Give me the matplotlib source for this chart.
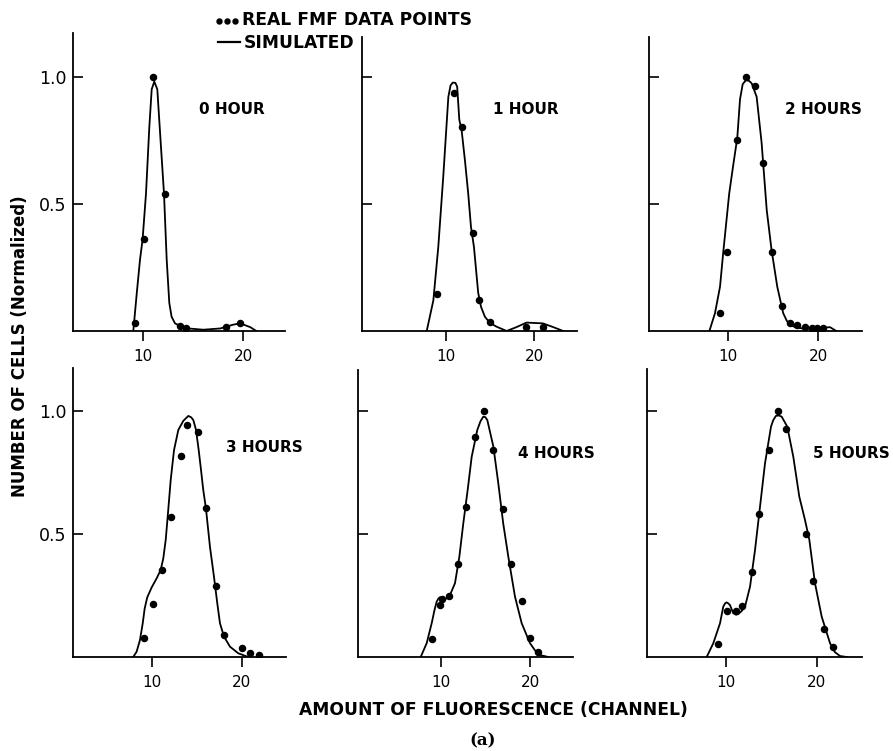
import matplotlib.pyplot as plt
from matplotlib.lines import Line2D

# ----------------------------
# Data (channel, normalized count)
# ----------------------------

hours = ["0 HOUR", "1 HOUR", "2 HOURS", "3 HOURS", "4 HOURS", "5 HOURS"]

# real FMF data points
x_pts_0 = [9.2, 10.1, 11.0, 12.2, 13.7, 14.3, 18.3, 19.7]
y_pts_0 = [0.03, 0.36, 1.0, 0.54, 0.02, 0.01, 0.015, 0.03]

x_pts_1 = [9.0, 10.9, 11.9, 13.05, 13.8, 15.0, 19.1, 21.0]
y_pts_1 = [0.144, 0.934, 0.80, 0.386, 0.12, 0.037, 0.017, 0.017]

x_pts_2 = [9.1, 9.9, 11.0, 12.0, 13.0, 13.9, 14.9, 16.0, 16.8, 17.6, 18.5, 19.3, 19.8, 20.55]
y_pts_2 = [0.07, 0.31, 0.75, 0.997, 0.963, 0.66, 0.31, 0.098, 0.03, 0.025, 0.015, 0.01, 0.01, 0.01]

x_pts_3 = [9.07, 10.04, 11.12, 12.09, 13.17, 13.9, 15.08, 16.0, 17.12, 18.0, 20.0, 20.93, 21.97]
y_pts_3 = [0.078, 0.214, 0.354, 0.57, 0.818, 0.943, 0.916, 0.607, 0.289, 0.089, 0.035, 0.015, 0.008]

x_pts_4 = [8.99, 9.9, 10.15, 10.93, 11.97, 12.83, 13.88, 14.85, 15.9, 17.0, 17.87, 19.1, 20.0, 20.93]
y_pts_4 = [0.072, 0.21, 0.235, 0.25, 0.38, 0.608, 0.895, 1.0, 0.84, 0.60, 0.377, 0.229, 0.076, 0.022]

x_pts_5 = [9.15, 10.07, 11.1, 11.73, 12.83, 13.67, 14.78, 15.77, 16.58, 18.82, 19.63, 20.84, 21.76]
y_pts_5 = [0.052, 0.188, 0.188, 0.207, 0.347, 0.581, 0.841, 1.0, 0.925, 0.499, 0.31, 0.114, 0.042]

# simulated curves
x_sim_0 = [9.0, 9.35, 9.67, 9.93, 10.27, 10.6, 10.84, 11.1, 11.4, 11.74, 12.07, 12.34,
           12.6, 12.83, 13.17, 13.67, 14.5, 16.0, 17.7, 19.0, 19.7, 20.7, 21.3]
y_sim_0 = [0.0, 0.15, 0.28, 0.36, 0.54, 0.80, 0.95, 0.98, 0.95, 0.74, 0.54, 0.28,
           0.11, 0.056, 0.03, 0.02, 0.01, 0.005, 0.01, 0.025, 0.03, 0.015, 0.0]

x_sim_1 = [7.85, 8.6, 9.16, 9.73, 10.3, 10.55, 10.8, 11.1, 11.3, 11.54, 11.8, 12.18, 12.55,
           12.86, 13.2, 13.68, 14.0, 14.44, 15.0, 15.76, 16.9, 18.0, 19.15, 21.0, 22.2, 23.3]
y_sim_1 = [0.0, 0.12, 0.33, 0.61, 0.92, 0.965, 0.976, 0.975, 0.96, 0.83, 0.79, 0.67, 0.54,
           0.41, 0.33, 0.15, 0.095, 0.056, 0.032, 0.017, 0.0, 0.015, 0.033, 0.03, 0.015, 0.0]

x_sim_2 = [7.9, 8.52, 9.08, 9.44, 10.1, 10.5, 11.0, 11.3, 11.6, 11.97, 12.3, 12.6, 13.15,
           13.7, 14.27, 14.8, 15.44, 16.1, 16.5, 16.85, 17.5, 18.3, 20.55, 21.3, 22.0]
y_sim_2 = [0.0, 0.07, 0.174, 0.31, 0.54, 0.64, 0.76, 0.91, 0.97, 0.986, 0.983, 0.973, 0.92,
           0.74, 0.475, 0.32, 0.174, 0.07, 0.04, 0.024, 0.014, 0.01, 0.013, 0.015, 0.0]

x_sim_3 = [7.87, 8.25, 8.62, 8.93, 9.15, 9.44, 9.93, 10.49, 10.94, 11.23, 11.5, 11.72, 12.06,
           12.43, 12.91, 13.47, 14.03, 14.36, 14.59, 14.89, 15.19, 15.45, 15.7, 16.0,
           16.45, 16.9, 17.27, 17.57, 18.02, 18.69, 19.62, 20.74]
y_sim_3 = [0.0, 0.022, 0.069, 0.137, 0.198, 0.243, 0.283, 0.32, 0.354, 0.401, 0.476, 0.57,
           0.72, 0.841, 0.923, 0.96, 0.98, 0.974, 0.963, 0.923, 0.841, 0.76, 0.679, 0.604,
           0.448, 0.326, 0.218, 0.137, 0.083, 0.042, 0.015, 0.0]

x_sim_4 = [7.76, 8.43, 8.99, 9.3, 9.55, 9.75, 9.92, 10.2, 10.48, 10.75, 11.04, 11.6, 12.09,
           12.53, 13.02, 13.47, 14.1, 14.45, 14.77, 15.0, 15.22, 15.9, 16.45, 17.0, 17.57,
           18.32, 19.07, 20.0, 20.6, 21.12, 22.05]
y_sim_4 = [0.0, 0.056, 0.137, 0.19, 0.225, 0.238, 0.243, 0.238, 0.235, 0.24, 0.252, 0.30,
           0.408, 0.543, 0.679, 0.814, 0.923, 0.958, 0.977, 0.975, 0.963, 0.855, 0.706,
           0.543, 0.408, 0.245, 0.137, 0.056, 0.025, 0.008, 0.0]

x_sim_5 = [7.87, 8.6, 9.34, 9.7, 9.9, 10.07, 10.25, 10.44, 10.8, 11.1, 11.36, 11.7, 12.1,
           12.65, 13.2, 13.75, 14.3, 14.96, 15.2, 15.5, 15.8, 16.14, 16.76, 17.42, 18.08,
           18.71, 19.19, 19.81, 20.55, 21.47, 22.0, 22.57, 23.3]
y_sim_5 = [0.0, 0.056, 0.137, 0.205, 0.218, 0.222, 0.218, 0.211, 0.178, 0.172, 0.175, 0.186,
           0.205, 0.286, 0.435, 0.611, 0.787, 0.936, 0.962, 0.98, 0.982, 0.977, 0.936,
           0.814, 0.652, 0.557, 0.476, 0.30, 0.164, 0.056, 0.02, 0.004, 0.0]

points = [(x_pts_0, y_pts_0), (x_pts_1, y_pts_1), (x_pts_2, y_pts_2),
          (x_pts_3, y_pts_3), (x_pts_4, y_pts_4), (x_pts_5, y_pts_5)]
curves = [(x_sim_0, y_sim_0), (x_sim_1, y_sim_1), (x_sim_2, y_sim_2),
          (x_sim_3, y_sim_3), (x_sim_4, y_sim_4), (x_sim_5, y_sim_5)]

# ----------------------------
# Layout (pixels on the 893x751 sheet)
# left, right, top, y=0 row, x of tick 10, x of tick 20, y of tick 1.0, label x, label y
# ----------------------------

W, H = 893, 751
panels = [
    (73, 285, 33, 331, 143.3, 243.3, 76.5, 199, 110),
    (362, 577, 37, 331, 445.7, 534.0, 76.5, 493, 110),
    (649, 862, 37, 331, 728.3, 818.3, 76.5, 785, 110),
    (73, 286, 368, 657, 152.3, 241.7, 411, 226, 448),
    (358, 573, 370, 657, 440.7, 530.0, 411, 518, 454),
    (647, 862, 369, 657, 726.0, 816.7, 411, 813, 454),
]

plt.rcParams["font.family"] = ["DejaVu Sans"]

fig = plt.figure(figsize=(W / 100, H / 100), dpi=100)

for i, (L, R, T, B, x10, x20, y1, tx, ty) in enumerate(panels):

    ppu = (x20 - x10) / 10
    ax = fig.add_axes([L / W, 1 - B / H, (R - L) / W, (B - T) / H])

    xs, ys = curves[i]
    ax.plot(xs, ys, color="black", lw=1.3, solid_joinstyle="round")

    px, py = points[i]
    ax.plot(px, py, "o", color="black", ms=4.4, zorder=3)

    ax.set_xlim(10 - (x10 - L) / ppu, 20 + (R - x20) / ppu)
    ax.set_ylim(0, (B - T) / (B - y1))

    ax.spines["top"].set_visible(False)
    ax.spines["right"].set_visible(False)
    ax.spines["left"].set_linewidth(1.3)
    ax.spines["bottom"].set_linewidth(1.3)

    ax.set_xticks([10, 20])
    ax.set_xticklabels(["10", "20"])
    ax.tick_params(axis="x", direction="out", length=7, width=1.2, pad=6, labelsize=11)

    ax.set_yticks([0.5, 1.0])
    if i % 3 == 0:
        ax.set_yticklabels(["0.5", "1.0"])
    else:
        ax.set_yticklabels([])
    ax.tick_params(axis="y", direction="in", length=7, width=1.2, pad=4.5, labelsize=12.5)

    fig.text(tx / W, 1 - ty / H, hours[i], ha="left", va="center",
             fontsize=11, fontweight="bold")

# ----------------------------
# Legend, axis labels
# ----------------------------

fig.add_artist(Line2D([219 / W, 227 / W, 235 / W], [1 - 21 / H] * 3, ls="none",
                      marker="o", ms=3.6, color="black", transform=fig.transFigure))
fig.text(242 / W, 1 - 20 / H, "REAL FMF DATA POINTS", ha="left", va="center",
         fontsize=12.3, fontweight="bold")
fig.add_artist(Line2D([218 / W, 240 / W], [1 - 42 / H] * 2, lw=1.6, color="black",
                      transform=fig.transFigure))
fig.text(244 / W, 1 - 43 / H, "SIMULATED", ha="left", va="center",
         fontsize=12.3, fontweight="bold")

fig.text(20 / W, 1 - 346 / H, "NUMBER OF CELLS (Normalized)", rotation=90,
         ha="center", va="center", fontsize=12, fontweight="bold")

fig.text(493 / W, 1 - 710 / H, "AMOUNT OF FLUORESCENCE (CHANNEL)", ha="center",
         va="center", fontsize=12.3, fontweight="bold")

fig.text(483 / W, 1 - 741 / H, "(a)", ha="center", va="center", fontsize=12,
         fontweight="bold", family="DejaVu Serif")

plt.savefig("out.png", dpi=100)
